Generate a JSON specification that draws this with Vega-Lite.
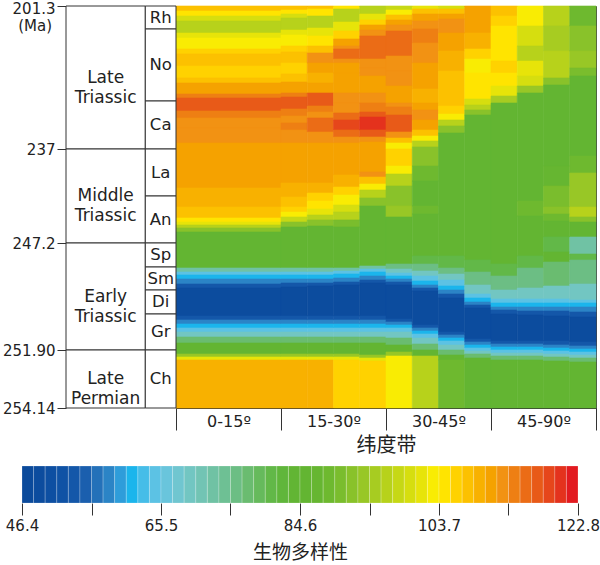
{
"$schema": "https://vega.github.io/schema/vega-lite/v6.json",
"width": 420, "height": 402,
"autosize": {"type": "none"},
"padding": {"left": 176, "top": 6, "right": 4, "bottom": 157},
"background": "white",
"config": {"view": {"stroke": "#444", "strokeWidth": 1}, "axis": {"grid": false, "labelFont": "DejaVu Sans", "labelColor": "#222", "tickColor": "#333", "domainColor": "#333"}, "text": {"font": "DejaVu Sans"}},
"datasets": {
"periods": [{"n":"Late\nTriassic","y0":0,"y1":143},{"n":"Middle\nTriassic","y0":143,"y1":237},{"n":"Early\nTriassic","y0":237,"y1":344},{"n":"Late\nPermian","y0":344,"y1":402}],
"stages": [{"n":"Rh","y0":0,"y1":23},{"n":"No","y0":23,"y1":95},{"n":"Ca","y0":95,"y1":143},{"n":"La","y0":143,"y1":190},{"n":"An","y0":190,"y1":237},{"n":"Sp","y0":237,"y1":261},{"n":"Sm","y0":261,"y1":284},{"n":"Di","y0":284,"y1":308},{"n":"Gr","y0":308,"y1":344},{"n":"Ch","y0":344,"y1":402}],
"legend": [{"lo":46.4,"hi":47.99,"v":47.2},{"lo":47.99,"hi":49.58,"v":48.8},{"lo":49.58,"hi":51.18,"v":50.4},{"lo":51.18,"hi":52.77,"v":52},{"lo":52.77,"hi":54.36,"v":53.6},{"lo":54.36,"hi":55.95,"v":55.2},{"lo":55.95,"hi":57.54,"v":56.7},{"lo":57.54,"hi":59.13,"v":58.3},{"lo":59.13,"hi":60.73,"v":59.9},{"lo":60.73,"hi":62.32,"v":61.5},{"lo":62.32,"hi":63.91,"v":63.1},{"lo":63.91,"hi":65.5,"v":64.7},{"lo":65.5,"hi":67.09,"v":66.3},{"lo":67.09,"hi":68.68,"v":67.9},{"lo":68.68,"hi":70.28,"v":69.5},{"lo":70.28,"hi":71.87,"v":71.1},{"lo":71.87,"hi":73.46,"v":72.7},{"lo":73.46,"hi":75.05,"v":74.3},{"lo":75.05,"hi":76.64,"v":75.8},{"lo":76.64,"hi":78.23,"v":77.4},{"lo":78.23,"hi":79.83,"v":79},{"lo":79.83,"hi":81.42,"v":80.6},{"lo":81.42,"hi":83.01,"v":82.2},{"lo":83.01,"hi":84.6,"v":83.8},{"lo":84.6,"hi":86.19,"v":85.4},{"lo":86.19,"hi":87.78,"v":87},{"lo":87.78,"hi":89.38,"v":88.6},{"lo":89.38,"hi":90.97,"v":90.2},{"lo":90.97,"hi":92.56,"v":91.8},{"lo":92.56,"hi":94.15,"v":93.4},{"lo":94.15,"hi":95.74,"v":94.9},{"lo":95.74,"hi":97.33,"v":96.5},{"lo":97.33,"hi":98.93,"v":98.1},{"lo":98.93,"hi":100.52,"v":99.7},{"lo":100.52,"hi":102.11,"v":101.3},{"lo":102.11,"hi":103.7,"v":102.9},{"lo":103.7,"hi":105.29,"v":104.5},{"lo":105.29,"hi":106.88,"v":106.1},{"lo":106.88,"hi":108.47,"v":107.7},{"lo":108.47,"hi":110.07,"v":109.3},{"lo":110.07,"hi":111.66,"v":110.9},{"lo":111.66,"hi":113.25,"v":112.5},{"lo":113.25,"hi":114.84,"v":114},{"lo":114.84,"hi":116.43,"v":115.6},{"lo":116.43,"hi":118.03,"v":117.2},{"lo":118.03,"hi":119.62,"v":118.8},{"lo":119.62,"hi":121.21,"v":120.4},{"lo":121.21,"hi":122.8,"v":122}],
"grid": [
{"a":0,"b":1,"y":0,"z":5,"v":107.5},{"a":0,"b":1,"y":5,"z":10,"v":104},{"a":0,"b":1,"y":10,"z":15,"v":100},{"a":0,"b":1,"y":15,"z":27,"v":97},{"a":0,"b":1,"y":27,"z":32,"v":101.5},{"a":0,"b":1,"y":32,"z":43,"v":103},{"a":0,"b":1,"y":43,"z":48,"v":106},{"a":0,"b":1,"y":48,"z":60,"v":107.5},{"a":0,"b":1,"y":60,"z":72,"v":106},{"a":0,"b":1,"y":72,"z":77,"v":107.5},{"a":0,"b":1,"y":77,"z":88,"v":111},{"a":0,"b":1,"y":88,"z":92,"v":114},{"a":0,"b":1,"y":92,"z":105,"v":117},{"a":0,"b":1,"y":105,"z":112,"v":114},{"a":0,"b":1,"y":112,"z":122,"v":112.5},{"a":0,"b":1,"y":122,"z":137,"v":112},{"a":0,"b":1,"y":137,"z":182,"v":110.5},{"a":0,"b":1,"y":182,"z":201,"v":109},{"a":0,"b":1,"y":201,"z":212,"v":107.5},{"a":0,"b":1,"y":212,"z":216,"v":105},{"a":0,"b":1,"y":216,"z":219,"v":101},{"a":0,"b":1,"y":219,"z":222,"v":97},{"a":0,"b":1,"y":222,"z":226,"v":92},{"a":0,"b":1,"y":226,"z":262,"v":85},{"a":0,"b":1,"y":262,"z":266,"v":73},{"a":0,"b":1,"y":266,"z":269,"v":65},{"a":0,"b":1,"y":269,"z":273,"v":61},{"a":0,"b":1,"y":273,"z":278,"v":58},{"a":0,"b":1,"y":278,"z":282,"v":54},{"a":0,"b":1,"y":282,"z":310,"v":49},{"a":0,"b":1,"y":310,"z":314,"v":54},{"a":0,"b":1,"y":314,"z":318,"v":58},{"a":0,"b":1,"y":318,"z":322,"v":61},{"a":0,"b":1,"y":322,"z":326,"v":65},{"a":0,"b":1,"y":326,"z":331,"v":70},{"a":0,"b":1,"y":331,"z":337,"v":77},{"a":0,"b":1,"y":337,"z":348,"v":85},{"a":0,"b":1,"y":348,"z":351,"v":93},{"a":0,"b":1,"y":351,"z":354,"v":101},{"a":0,"b":1,"y":354,"z":402,"v":109},
{"a":1,"b":1.25,"y":0,"z":4,"v":107.5},{"a":1,"b":1.25,"y":4,"z":8,"v":104},{"a":1,"b":1.25,"y":8,"z":12,"v":100},{"a":1,"b":1.25,"y":12,"z":24,"v":97},{"a":1,"b":1.25,"y":24,"z":29,"v":101.5},{"a":1,"b":1.25,"y":29,"z":40,"v":103},{"a":1,"b":1.25,"y":40,"z":46,"v":106},{"a":1,"b":1.25,"y":46,"z":57,"v":107.5},{"a":1,"b":1.25,"y":57,"z":68,"v":106},{"a":1,"b":1.25,"y":68,"z":76,"v":107.5},{"a":1,"b":1.25,"y":76,"z":87,"v":111},{"a":1,"b":1.25,"y":87,"z":91,"v":114},{"a":1,"b":1.25,"y":91,"z":103,"v":117},{"a":1,"b":1.25,"y":103,"z":110,"v":114},{"a":1,"b":1.25,"y":110,"z":117,"v":112.5},{"a":1,"b":1.25,"y":117,"z":124,"v":114},{"a":1,"b":1.25,"y":124,"z":137,"v":112},{"a":1,"b":1.25,"y":137,"z":177,"v":110.5},{"a":1,"b":1.25,"y":177,"z":191,"v":109},{"a":1,"b":1.25,"y":191,"z":201,"v":107.5},{"a":1,"b":1.25,"y":201,"z":206,"v":106},{"a":1,"b":1.25,"y":206,"z":211,"v":103},{"a":1,"b":1.25,"y":211,"z":216,"v":98},{"a":1,"b":1.25,"y":216,"z":221,"v":92},{"a":1,"b":1.25,"y":221,"z":262,"v":85},{"a":1,"b":1.25,"y":262,"z":266,"v":73},{"a":1,"b":1.25,"y":266,"z":269,"v":65},{"a":1,"b":1.25,"y":269,"z":273,"v":61},{"a":1,"b":1.25,"y":273,"z":277,"v":58},{"a":1,"b":1.25,"y":277,"z":281,"v":54},{"a":1,"b":1.25,"y":281,"z":310,"v":49},{"a":1,"b":1.25,"y":310,"z":314,"v":54},{"a":1,"b":1.25,"y":314,"z":318,"v":58},{"a":1,"b":1.25,"y":318,"z":322,"v":61},{"a":1,"b":1.25,"y":322,"z":326,"v":65},{"a":1,"b":1.25,"y":326,"z":331,"v":70},{"a":1,"b":1.25,"y":331,"z":337,"v":77},{"a":1,"b":1.25,"y":337,"z":348,"v":85},{"a":1,"b":1.25,"y":348,"z":351,"v":93},{"a":1,"b":1.25,"y":351,"z":354,"v":101},{"a":1,"b":1.25,"y":354,"z":402,"v":109},
{"a":1.25,"b":1.5,"y":0,"z":3,"v":107.5},{"a":1.25,"b":1.5,"y":3,"z":10,"v":104},{"a":1.25,"b":1.5,"y":10,"z":22,"v":97},{"a":1.25,"b":1.5,"y":22,"z":30,"v":101.5},{"a":1.25,"b":1.5,"y":30,"z":40,"v":105},{"a":1.25,"b":1.5,"y":40,"z":47,"v":107.5},{"a":1.25,"b":1.5,"y":47,"z":57,"v":112.5},{"a":1.25,"b":1.5,"y":57,"z":67,"v":111},{"a":1.25,"b":1.5,"y":67,"z":77,"v":109},{"a":1.25,"b":1.5,"y":77,"z":87,"v":111},{"a":1.25,"b":1.5,"y":87,"z":100,"v":117},{"a":1.25,"b":1.5,"y":100,"z":106,"v":114},{"a":1.25,"b":1.5,"y":106,"z":112,"v":112.5},{"a":1.25,"b":1.5,"y":112,"z":126,"v":116},{"a":1.25,"b":1.5,"y":126,"z":137,"v":112.5},{"a":1.25,"b":1.5,"y":137,"z":177,"v":110.5},{"a":1.25,"b":1.5,"y":177,"z":187,"v":109},{"a":1.25,"b":1.5,"y":187,"z":195,"v":106},{"a":1.25,"b":1.5,"y":195,"z":203,"v":104},{"a":1.25,"b":1.5,"y":203,"z":209,"v":102},{"a":1.25,"b":1.5,"y":209,"z":214,"v":97},{"a":1.25,"b":1.5,"y":214,"z":220,"v":91},{"a":1.25,"b":1.5,"y":220,"z":262,"v":85},{"a":1.25,"b":1.5,"y":262,"z":266,"v":73},{"a":1.25,"b":1.5,"y":266,"z":269,"v":65},{"a":1.25,"b":1.5,"y":269,"z":273,"v":61},{"a":1.25,"b":1.5,"y":273,"z":277,"v":58},{"a":1.25,"b":1.5,"y":277,"z":280,"v":54},{"a":1.25,"b":1.5,"y":280,"z":310,"v":49},{"a":1.25,"b":1.5,"y":310,"z":314,"v":54},{"a":1.25,"b":1.5,"y":314,"z":318,"v":58},{"a":1.25,"b":1.5,"y":318,"z":322,"v":61},{"a":1.25,"b":1.5,"y":322,"z":326,"v":65},{"a":1.25,"b":1.5,"y":326,"z":331,"v":70},{"a":1.25,"b":1.5,"y":331,"z":337,"v":77},{"a":1.25,"b":1.5,"y":337,"z":348,"v":85},{"a":1.25,"b":1.5,"y":348,"z":351,"v":93},{"a":1.25,"b":1.5,"y":351,"z":354,"v":101},{"a":1.25,"b":1.5,"y":354,"z":402,"v":109},
{"a":1.5,"b":1.75,"y":0,"z":3,"v":104},{"a":1.5,"b":1.75,"y":3,"z":16,"v":97},{"a":1.5,"b":1.75,"y":16,"z":25,"v":102},{"a":1.5,"b":1.75,"y":25,"z":33,"v":106},{"a":1.5,"b":1.75,"y":33,"z":40,"v":110.5},{"a":1.5,"b":1.75,"y":40,"z":43,"v":113},{"a":1.5,"b":1.75,"y":43,"z":53,"v":115.5},{"a":1.5,"b":1.75,"y":53,"z":57,"v":113},{"a":1.5,"b":1.75,"y":57,"z":67,"v":111},{"a":1.5,"b":1.75,"y":67,"z":87,"v":110.5},{"a":1.5,"b":1.75,"y":87,"z":97,"v":113},{"a":1.5,"b":1.75,"y":97,"z":107,"v":112.5},{"a":1.5,"b":1.75,"y":107,"z":114,"v":115.5},{"a":1.5,"b":1.75,"y":114,"z":124,"v":119},{"a":1.5,"b":1.75,"y":124,"z":131,"v":115.5},{"a":1.5,"b":1.75,"y":131,"z":137,"v":112.5},{"a":1.5,"b":1.75,"y":137,"z":169,"v":110.5},{"a":1.5,"b":1.75,"y":169,"z":181,"v":109},{"a":1.5,"b":1.75,"y":181,"z":189,"v":106},{"a":1.5,"b":1.75,"y":189,"z":199,"v":103},{"a":1.5,"b":1.75,"y":199,"z":206,"v":100},{"a":1.5,"b":1.75,"y":206,"z":214,"v":96},{"a":1.5,"b":1.75,"y":214,"z":221,"v":90},{"a":1.5,"b":1.75,"y":221,"z":262,"v":85},{"a":1.5,"b":1.75,"y":262,"z":265,"v":73},{"a":1.5,"b":1.75,"y":265,"z":268,"v":65},{"a":1.5,"b":1.75,"y":268,"z":272,"v":61},{"a":1.5,"b":1.75,"y":272,"z":276,"v":58},{"a":1.5,"b":1.75,"y":276,"z":279,"v":54},{"a":1.5,"b":1.75,"y":279,"z":310,"v":49},{"a":1.5,"b":1.75,"y":310,"z":314,"v":54},{"a":1.5,"b":1.75,"y":314,"z":318,"v":58},{"a":1.5,"b":1.75,"y":318,"z":322,"v":61},{"a":1.5,"b":1.75,"y":322,"z":326,"v":65},{"a":1.5,"b":1.75,"y":326,"z":331,"v":70},{"a":1.5,"b":1.75,"y":331,"z":337,"v":77},{"a":1.5,"b":1.75,"y":337,"z":348,"v":85},{"a":1.5,"b":1.75,"y":348,"z":351,"v":93},{"a":1.5,"b":1.75,"y":351,"z":354,"v":101},{"a":1.5,"b":1.75,"y":354,"z":402,"v":106},
{"a":1.75,"b":2,"y":0,"z":8,"v":97},{"a":1.75,"b":2,"y":8,"z":14,"v":102},{"a":1.75,"b":2,"y":14,"z":19,"v":106},{"a":1.75,"b":2,"y":19,"z":24,"v":110.5},{"a":1.75,"b":2,"y":24,"z":30,"v":113},{"a":1.75,"b":2,"y":30,"z":53,"v":115.5},{"a":1.75,"b":2,"y":53,"z":62,"v":113},{"a":1.75,"b":2,"y":62,"z":70,"v":112.5},{"a":1.75,"b":2,"y":70,"z":87,"v":110.5},{"a":1.75,"b":2,"y":87,"z":97,"v":112.5},{"a":1.75,"b":2,"y":97,"z":106,"v":114},{"a":1.75,"b":2,"y":106,"z":111,"v":117},{"a":1.75,"b":2,"y":111,"z":124,"v":121},{"a":1.75,"b":2,"y":124,"z":131,"v":117},{"a":1.75,"b":2,"y":131,"z":136,"v":112.5},{"a":1.75,"b":2,"y":136,"z":166,"v":110.5},{"a":1.75,"b":2,"y":166,"z":171,"v":112.5},{"a":1.75,"b":2,"y":171,"z":178,"v":107.5},{"a":1.75,"b":2,"y":178,"z":184,"v":103},{"a":1.75,"b":2,"y":184,"z":192,"v":97},{"a":1.75,"b":2,"y":192,"z":200,"v":92},{"a":1.75,"b":2,"y":200,"z":260,"v":85},{"a":1.75,"b":2,"y":260,"z":263,"v":73},{"a":1.75,"b":2,"y":263,"z":266,"v":65},{"a":1.75,"b":2,"y":266,"z":270,"v":61},{"a":1.75,"b":2,"y":270,"z":274,"v":58},{"a":1.75,"b":2,"y":274,"z":277,"v":54},{"a":1.75,"b":2,"y":277,"z":310,"v":49},{"a":1.75,"b":2,"y":310,"z":314,"v":54},{"a":1.75,"b":2,"y":314,"z":318,"v":58},{"a":1.75,"b":2,"y":318,"z":322,"v":61},{"a":1.75,"b":2,"y":322,"z":326,"v":65},{"a":1.75,"b":2,"y":326,"z":331,"v":70},{"a":1.75,"b":2,"y":331,"z":337,"v":77},{"a":1.75,"b":2,"y":337,"z":349,"v":85},{"a":1.75,"b":2,"y":349,"z":352,"v":93},{"a":1.75,"b":2,"y":352,"z":355,"v":101},{"a":1.75,"b":2,"y":355,"z":402,"v":105.5},
{"a":2,"b":2.25,"y":0,"z":4,"v":98},{"a":2,"b":2.25,"y":4,"z":9,"v":103},{"a":2,"b":2.25,"y":9,"z":14,"v":107.5},{"a":2,"b":2.25,"y":14,"z":19,"v":110.5},{"a":2,"b":2.25,"y":19,"z":25,"v":112.5},{"a":2,"b":2.25,"y":25,"z":50,"v":115.5},{"a":2,"b":2.25,"y":50,"z":65,"v":113},{"a":2,"b":2.25,"y":65,"z":80,"v":112.5},{"a":2,"b":2.25,"y":80,"z":97,"v":110.5},{"a":2,"b":2.25,"y":97,"z":101,"v":112.5},{"a":2,"b":2.25,"y":101,"z":109,"v":114},{"a":2,"b":2.25,"y":109,"z":126,"v":117},{"a":2,"b":2.25,"y":126,"z":132,"v":112.5},{"a":2,"b":2.25,"y":132,"z":137,"v":107.5},{"a":2,"b":2.25,"y":137,"z":143,"v":103},{"a":2,"b":2.25,"y":143,"z":160,"v":106},{"a":2,"b":2.25,"y":160,"z":168,"v":103},{"a":2,"b":2.25,"y":168,"z":180,"v":96},{"a":2,"b":2.25,"y":180,"z":200,"v":91},{"a":2,"b":2.25,"y":200,"z":211,"v":93},{"a":2,"b":2.25,"y":211,"z":258,"v":85},{"a":2,"b":2.25,"y":258,"z":263,"v":76},{"a":2,"b":2.25,"y":263,"z":267,"v":70},{"a":2,"b":2.25,"y":267,"z":270,"v":65},{"a":2,"b":2.25,"y":270,"z":273,"v":61},{"a":2,"b":2.25,"y":273,"z":276,"v":58},{"a":2,"b":2.25,"y":276,"z":279,"v":54},{"a":2,"b":2.25,"y":279,"z":313,"v":49},{"a":2,"b":2.25,"y":313,"z":316,"v":54},{"a":2,"b":2.25,"y":316,"z":319,"v":58},{"a":2,"b":2.25,"y":319,"z":322,"v":61},{"a":2,"b":2.25,"y":322,"z":326,"v":65},{"a":2,"b":2.25,"y":326,"z":332,"v":70},{"a":2,"b":2.25,"y":332,"z":339,"v":77},{"a":2,"b":2.25,"y":339,"z":346,"v":85},{"a":2,"b":2.25,"y":346,"z":350,"v":93},{"a":2,"b":2.25,"y":350,"z":402,"v":103},
{"a":2.25,"b":2.5,"y":0,"z":3,"v":101},{"a":2.25,"b":2.5,"y":3,"z":8,"v":107.5},{"a":2.25,"b":2.5,"y":8,"z":15,"v":110.5},{"a":2.25,"b":2.5,"y":15,"z":23,"v":112.5},{"a":2.25,"b":2.5,"y":23,"z":37,"v":114},{"a":2.25,"b":2.5,"y":37,"z":57,"v":112.5},{"a":2.25,"b":2.5,"y":57,"z":83,"v":110.5},{"a":2.25,"b":2.5,"y":83,"z":97,"v":109},{"a":2.25,"b":2.5,"y":97,"z":104,"v":110.5},{"a":2.25,"b":2.5,"y":104,"z":114,"v":112},{"a":2.25,"b":2.5,"y":114,"z":124,"v":110.5},{"a":2.25,"b":2.5,"y":124,"z":130,"v":107.5},{"a":2.25,"b":2.5,"y":130,"z":135,"v":103},{"a":2.25,"b":2.5,"y":135,"z":141,"v":97},{"a":2.25,"b":2.5,"y":141,"z":160,"v":91},{"a":2.25,"b":2.5,"y":160,"z":175,"v":88},{"a":2.25,"b":2.5,"y":175,"z":200,"v":85},{"a":2.25,"b":2.5,"y":200,"z":208,"v":89},{"a":2.25,"b":2.5,"y":208,"z":250,"v":85},{"a":2.25,"b":2.5,"y":250,"z":258,"v":80},{"a":2.25,"b":2.5,"y":258,"z":265,"v":76},{"a":2.25,"b":2.5,"y":265,"z":270,"v":70},{"a":2.25,"b":2.5,"y":270,"z":275,"v":65},{"a":2.25,"b":2.5,"y":275,"z":279,"v":61},{"a":2.25,"b":2.5,"y":279,"z":282,"v":58},{"a":2.25,"b":2.5,"y":282,"z":285,"v":54},{"a":2.25,"b":2.5,"y":285,"z":319,"v":49},{"a":2.25,"b":2.5,"y":319,"z":322,"v":54},{"a":2.25,"b":2.5,"y":322,"z":325,"v":58},{"a":2.25,"b":2.5,"y":325,"z":328,"v":61},{"a":2.25,"b":2.5,"y":328,"z":332,"v":65},{"a":2.25,"b":2.5,"y":332,"z":338,"v":70},{"a":2.25,"b":2.5,"y":338,"z":344,"v":77},{"a":2.25,"b":2.5,"y":344,"z":350,"v":85},{"a":2.25,"b":2.5,"y":350,"z":402,"v":96},
{"a":2.5,"b":2.75,"y":0,"z":3,"v":100},{"a":2.5,"b":2.75,"y":3,"z":8,"v":107.5},{"a":2.5,"b":2.75,"y":8,"z":13,"v":110.5},{"a":2.5,"b":2.75,"y":13,"z":27,"v":112.5},{"a":2.5,"b":2.75,"y":27,"z":45,"v":110.5},{"a":2.5,"b":2.75,"y":45,"z":65,"v":109},{"a":2.5,"b":2.75,"y":65,"z":100,"v":107.5},{"a":2.5,"b":2.75,"y":100,"z":108,"v":106},{"a":2.5,"b":2.75,"y":108,"z":114,"v":103},{"a":2.5,"b":2.75,"y":114,"z":120,"v":97},{"a":2.5,"b":2.75,"y":120,"z":127,"v":91},{"a":2.5,"b":2.75,"y":127,"z":250,"v":85},{"a":2.5,"b":2.75,"y":250,"z":262,"v":80},{"a":2.5,"b":2.75,"y":262,"z":268,"v":76},{"a":2.5,"b":2.75,"y":268,"z":274,"v":70},{"a":2.5,"b":2.75,"y":274,"z":280,"v":65},{"a":2.5,"b":2.75,"y":280,"z":284,"v":61},{"a":2.5,"b":2.75,"y":284,"z":288,"v":58},{"a":2.5,"b":2.75,"y":288,"z":292,"v":54},{"a":2.5,"b":2.75,"y":292,"z":326,"v":49},{"a":2.5,"b":2.75,"y":326,"z":329,"v":54},{"a":2.5,"b":2.75,"y":329,"z":332,"v":58},{"a":2.5,"b":2.75,"y":332,"z":335,"v":61},{"a":2.5,"b":2.75,"y":335,"z":339,"v":65},{"a":2.5,"b":2.75,"y":339,"z":344,"v":70},{"a":2.5,"b":2.75,"y":344,"z":349,"v":77},{"a":2.5,"b":2.75,"y":349,"z":354,"v":85},{"a":2.5,"b":2.75,"y":354,"z":402,"v":89},
{"a":2.75,"b":3,"y":0,"z":27,"v":110.5},{"a":2.75,"b":3,"y":27,"z":43,"v":109},{"a":2.75,"b":3,"y":43,"z":53,"v":106},{"a":2.75,"b":3,"y":53,"z":67,"v":103},{"a":2.75,"b":3,"y":67,"z":80,"v":105},{"a":2.75,"b":3,"y":80,"z":93,"v":104},{"a":2.75,"b":3,"y":93,"z":99,"v":100},{"a":2.75,"b":3,"y":99,"z":104,"v":96},{"a":2.75,"b":3,"y":104,"z":109,"v":91},{"a":2.75,"b":3,"y":109,"z":254,"v":85},{"a":2.75,"b":3,"y":254,"z":266,"v":80},{"a":2.75,"b":3,"y":266,"z":279,"v":76},{"a":2.75,"b":3,"y":279,"z":288,"v":70},{"a":2.75,"b":3,"y":288,"z":292,"v":65},{"a":2.75,"b":3,"y":292,"z":296,"v":61},{"a":2.75,"b":3,"y":296,"z":299,"v":58},{"a":2.75,"b":3,"y":299,"z":302,"v":54},{"a":2.75,"b":3,"y":302,"z":333,"v":49},{"a":2.75,"b":3,"y":333,"z":336,"v":54},{"a":2.75,"b":3,"y":336,"z":339,"v":58},{"a":2.75,"b":3,"y":339,"z":342,"v":61},{"a":2.75,"b":3,"y":342,"z":345,"v":65},{"a":2.75,"b":3,"y":345,"z":348,"v":70},{"a":2.75,"b":3,"y":348,"z":352,"v":77},{"a":2.75,"b":3,"y":352,"z":402,"v":85},
{"a":3,"b":3.25,"y":0,"z":10,"v":107.5},{"a":3,"b":3.25,"y":10,"z":20,"v":106},{"a":3,"b":3.25,"y":20,"z":40,"v":104},{"a":3,"b":3.25,"y":40,"z":55,"v":105},{"a":3,"b":3.25,"y":55,"z":67,"v":106},{"a":3,"b":3.25,"y":67,"z":80,"v":105},{"a":3,"b":3.25,"y":80,"z":90,"v":102},{"a":3,"b":3.25,"y":90,"z":97,"v":95},{"a":3,"b":3.25,"y":97,"z":258,"v":85},{"a":3,"b":3.25,"y":258,"z":270,"v":80},{"a":3,"b":3.25,"y":270,"z":284,"v":76},{"a":3,"b":3.25,"y":284,"z":293,"v":70},{"a":3,"b":3.25,"y":293,"z":297,"v":65},{"a":3,"b":3.25,"y":297,"z":301,"v":61},{"a":3,"b":3.25,"y":301,"z":304,"v":58},{"a":3,"b":3.25,"y":304,"z":308,"v":54},{"a":3,"b":3.25,"y":308,"z":335,"v":49},{"a":3,"b":3.25,"y":335,"z":338,"v":54},{"a":3,"b":3.25,"y":338,"z":341,"v":58},{"a":3,"b":3.25,"y":341,"z":344,"v":61},{"a":3,"b":3.25,"y":344,"z":347,"v":65},{"a":3,"b":3.25,"y":347,"z":350,"v":70},{"a":3,"b":3.25,"y":350,"z":354,"v":77},{"a":3,"b":3.25,"y":354,"z":402,"v":85},
{"a":3.25,"b":3.5,"y":0,"z":20,"v":103},{"a":3.25,"b":3.5,"y":20,"z":40,"v":100},{"a":3.25,"b":3.5,"y":40,"z":55,"v":97},{"a":3.25,"b":3.5,"y":55,"z":70,"v":101},{"a":3.25,"b":3.5,"y":70,"z":80,"v":99},{"a":3.25,"b":3.5,"y":80,"z":87,"v":93},{"a":3.25,"b":3.5,"y":87,"z":195,"v":85},{"a":3.25,"b":3.5,"y":195,"z":210,"v":88},{"a":3.25,"b":3.5,"y":210,"z":250,"v":85},{"a":3.25,"b":3.5,"y":250,"z":262,"v":80},{"a":3.25,"b":3.5,"y":262,"z":282,"v":76},{"a":3.25,"b":3.5,"y":282,"z":293,"v":70},{"a":3.25,"b":3.5,"y":293,"z":297,"v":65},{"a":3.25,"b":3.5,"y":297,"z":301,"v":61},{"a":3.25,"b":3.5,"y":301,"z":305,"v":58},{"a":3.25,"b":3.5,"y":305,"z":309,"v":54},{"a":3.25,"b":3.5,"y":309,"z":335,"v":49},{"a":3.25,"b":3.5,"y":335,"z":338,"v":54},{"a":3.25,"b":3.5,"y":338,"z":341,"v":58},{"a":3.25,"b":3.5,"y":341,"z":344,"v":61},{"a":3.25,"b":3.5,"y":344,"z":347,"v":65},{"a":3.25,"b":3.5,"y":347,"z":350,"v":70},{"a":3.25,"b":3.5,"y":350,"z":354,"v":77},{"a":3.25,"b":3.5,"y":354,"z":402,"v":85},
{"a":3.5,"b":3.75,"y":0,"z":20,"v":96},{"a":3.5,"b":3.75,"y":20,"z":45,"v":95},{"a":3.5,"b":3.75,"y":45,"z":72,"v":97},{"a":3.5,"b":3.75,"y":72,"z":79,"v":92},{"a":3.5,"b":3.75,"y":79,"z":160,"v":85},{"a":3.5,"b":3.75,"y":160,"z":180,"v":87},{"a":3.5,"b":3.75,"y":180,"z":201,"v":90},{"a":3.5,"b":3.75,"y":201,"z":208,"v":92},{"a":3.5,"b":3.75,"y":208,"z":215,"v":88},{"a":3.5,"b":3.75,"y":215,"z":231,"v":85},{"a":3.5,"b":3.75,"y":231,"z":246,"v":80},{"a":3.5,"b":3.75,"y":246,"z":256,"v":85},{"a":3.5,"b":3.75,"y":256,"z":280,"v":77},{"a":3.5,"b":3.75,"y":280,"z":293,"v":70},{"a":3.5,"b":3.75,"y":293,"z":297,"v":65},{"a":3.5,"b":3.75,"y":297,"z":301,"v":61},{"a":3.5,"b":3.75,"y":301,"z":305,"v":58},{"a":3.5,"b":3.75,"y":305,"z":310,"v":54},{"a":3.5,"b":3.75,"y":310,"z":335,"v":49},{"a":3.5,"b":3.75,"y":335,"z":339,"v":54},{"a":3.5,"b":3.75,"y":339,"z":342,"v":58},{"a":3.5,"b":3.75,"y":342,"z":345,"v":61},{"a":3.5,"b":3.75,"y":345,"z":348,"v":65},{"a":3.5,"b":3.75,"y":348,"z":351,"v":70},{"a":3.5,"b":3.75,"y":351,"z":355,"v":77},{"a":3.5,"b":3.75,"y":355,"z":402,"v":85},
{"a":3.75,"b":4,"y":0,"z":20,"v":89},{"a":3.75,"b":4,"y":20,"z":45,"v":92},{"a":3.75,"b":4,"y":45,"z":62,"v":94},{"a":3.75,"b":4,"y":62,"z":70,"v":90},{"a":3.75,"b":4,"y":70,"z":150,"v":85},{"a":3.75,"b":4,"y":150,"z":167,"v":88},{"a":3.75,"b":4,"y":167,"z":201,"v":93},{"a":3.75,"b":4,"y":201,"z":211,"v":96},{"a":3.75,"b":4,"y":211,"z":216,"v":91},{"a":3.75,"b":4,"y":216,"z":231,"v":85},{"a":3.75,"b":4,"y":231,"z":248,"v":72},{"a":3.75,"b":4,"y":248,"z":254,"v":80},{"a":3.75,"b":4,"y":254,"z":278,"v":76},{"a":3.75,"b":4,"y":278,"z":294,"v":70},{"a":3.75,"b":4,"y":294,"z":297,"v":65},{"a":3.75,"b":4,"y":297,"z":301,"v":61},{"a":3.75,"b":4,"y":301,"z":306,"v":58},{"a":3.75,"b":4,"y":306,"z":311,"v":54},{"a":3.75,"b":4,"y":311,"z":336,"v":49},{"a":3.75,"b":4,"y":336,"z":340,"v":54},{"a":3.75,"b":4,"y":340,"z":343,"v":58},{"a":3.75,"b":4,"y":343,"z":346,"v":61},{"a":3.75,"b":4,"y":346,"z":349,"v":65},{"a":3.75,"b":4,"y":349,"z":352,"v":70},{"a":3.75,"b":4,"y":352,"z":356,"v":77},{"a":3.75,"b":4,"y":356,"z":402,"v":85}
]
},
"layer": [
{
"layer": [
{
"data": {"name": "grid"},
"mark": {"type": "rect", "strokeWidth": 0.6},
"encoding": {
"x": {"field": "a", "type": "quantitative", "scale": {"domain": [0, 4], "nice": false, "zero": false},
 "axis": {"orient": "bottom", "values": [0, 1, 2, 3, 4], "labelExpr": "datum.value == 0 ? '0-15º' : datum.value == 1 ? '15-30º' : datum.value == 2 ? '30-45º' : datum.value == 3 ? '45-90º' : ''", "labelOffset": 52.5, "tickSize": 22, "labelPadding": -17, "labelFontSize": 16, "labelFlush": false, "labelOverlap": false, "labelBaseline": "top", "title": "纬度带", "titleFont": "Noto Sans CJK SC", "titleFontSize": 20, "titleFontWeight": "normal", "titleColor": "#222", "titleY": 37, "titleBaseline": "middle"}},
"x2": {"field": "b"},
"y": {"field": "y", "type": "quantitative", "scale": {"domain": [0, 402], "reverse": true, "nice": false, "zero": false},
 "axis": {"orient": "left", "values": [0, 143, 237, 344, 402], "labelExpr": "datum.value == 0 ? '201.3' : datum.value == 143 ? '237' : datum.value == 237 ? '247.2' : datum.value == 344 ? '251.90' : '254.14'", "offset": 110, "tickSize": 9, "domain": false, "labelPadding": 2, "labelFontSize": 15, "labelFlush": false, "labelOverlap": false, "labelOffset": {"condition": {"test": "datum.value == 0", "value": 2}, "value": 0}, "title": null}},
"y2": {"field": "z"},
"color": {"field": "v", "type": "quantitative", "legend": null, "scale": {"type": "threshold", "domain": [47.99,49.58,51.18,52.77,54.36,55.95,57.54,59.13,60.73,62.32,63.91,65.5,67.09,68.68,70.28,71.87,73.46,75.05,76.64,78.23,79.83,81.42,83.01,84.6,86.19,87.78,89.38,90.97,92.56,94.15,95.74,97.33,98.93,100.52,102.11,103.7,105.29,106.88,108.47,110.07,111.66,113.25,114.84,116.43,118.03,119.62,121.21], "range": ["#0b4a9b","#0c4c9e","#0d4fa2","#0f52a5","#1457a9","#1b5fae","#2471b9","#2b84c6","#2e9dda","#1bb5ec","#46bde8","#5cc2e4","#69c5dc","#70c6d0","#72c6c2","#72c4b4","#70c2a4","#6ec094","#6cbe84","#6abc70","#66ba5c","#62b848","#60b63b","#62b534","#63b532","#66b631","#6eb92f","#7abd2d","#89c22a","#98c726","#a7cc21","#b7d21b","#c6d815","#d6de0f","#e7e409","#f9ec03","#ffe400","#ffd200","#fcc100","#f8b100","#f5a200","#f29213","#ee7f13","#eb6c16","#e85a18","#e6461b","#e4321d","#e21a20"]}},
"stroke": {"field": "v", "type": "quantitative", "legend": null, "scale": {"type": "threshold", "domain": [47.99,49.58,51.18,52.77,54.36,55.95,57.54,59.13,60.73,62.32,63.91,65.5,67.09,68.68,70.28,71.87,73.46,75.05,76.64,78.23,79.83,81.42,83.01,84.6,86.19,87.78,89.38,90.97,92.56,94.15,95.74,97.33,98.93,100.52,102.11,103.7,105.29,106.88,108.47,110.07,111.66,113.25,114.84,116.43,118.03,119.62,121.21], "range": ["#0b4a9b","#0c4c9e","#0d4fa2","#0f52a5","#1457a9","#1b5fae","#2471b9","#2b84c6","#2e9dda","#1bb5ec","#46bde8","#5cc2e4","#69c5dc","#70c6d0","#72c6c2","#72c4b4","#70c2a4","#6ec094","#6cbe84","#6abc70","#66ba5c","#62b848","#60b63b","#62b534","#63b532","#66b631","#6eb92f","#7abd2d","#89c22a","#98c726","#a7cc21","#b7d21b","#c6d815","#d6de0f","#e7e409","#f9ec03","#ffe400","#ffd200","#fcc100","#f8b100","#f5a200","#f29213","#ee7f13","#eb6c16","#e85a18","#e6461b","#e4321d","#e21a20"]}}
}
},
{
"data": {"name": "periods"},
"mark": {"type": "rect", "fill": "white", "stroke": "#333", "strokeWidth": 1},
"encoding": {"x": {"datum": -1.0476, "type": "quantitative"}, "x2": {"datum": -0.2924}, "y": {"field": "y0", "type": "quantitative"}, "y2": {"field": "y1"}}
},
{
"data": {"name": "stages"},
"mark": {"type": "rect", "fill": "white", "stroke": "#333", "strokeWidth": 1},
"encoding": {"x": {"datum": -0.2924, "type": "quantitative"}, "x2": {"datum": 0}, "y": {"field": "y0", "type": "quantitative"}, "y2": {"field": "y1"}}
},
{
"data": {"name": "periods"},
"transform": [{"calculate": "(datum.y0 + datum.y1) / 2", "as": "ym"}],
"mark": {"type": "text", "lineBreak": "\n", "fontSize": 17, "lineHeight": 20, "color": "#222", "baseline": "middle", "align": "center"},
"encoding": {"x": {"datum": -0.67, "type": "quantitative"}, "y": {"field": "ym", "type": "quantitative"}, "text": {"field": "n"}}
},
{
"data": {"name": "stages"},
"transform": [{"calculate": "(datum.y0 + datum.y1) / 2", "as": "ym"}],
"mark": {"type": "text", "fontSize": 16.5, "color": "#222", "baseline": "middle", "align": "center"},
"encoding": {"x": {"datum": -0.146, "type": "quantitative"}, "y": {"field": "ym", "type": "quantitative"}, "text": {"field": "n"}}
},
{
"data": {"values": [{"t": "(Ma)"}]},
"mark": {"type": "text", "fontSize": 15, "color": "#222", "baseline": "middle", "align": "right"},
"encoding": {"x": {"datum": -1.18, "type": "quantitative"}, "y": {"datum": 19.5, "type": "quantitative"}, "text": {"field": "t"}}
}
]
},
{
"data": {"name": "legend"},
"mark": {"type": "rect", "stroke": "#ffffff", "strokeOpacity": 0.35, "strokeWidth": 0.6},
"encoding": {
"x": {"field": "lo", "type": "quantitative", "scale": {"domain": [46.4, 122.8], "range": [-154, 402], "nice": false, "zero": false},
 "axis": {"orient": "bottom", "offset": 95, "values": [46.4, 55.95, 65.5, 75.05, 84.6, 94.15, 103.7, 113.25, 122.8], "labelExpr": "round((datum.value - 46.4) / 9.55) % 2 == 0 ? format(datum.value, '.1f') : ''", "tickSize": 12, "domain": false, "labelFontSize": 15, "labelPadding": 3, "labelFlush": false, "labelOverlap": false, "title": "生物多样性", "titleFont": "Noto Sans CJK SC", "titleFontSize": 19, "titleFontWeight": "normal", "titleColor": "#222", "titleY": 49, "titleBaseline": "middle"}},
"x2": {"field": "hi"},
"y": {"datum": 0, "type": "quantitative", "scale": {"domain": [0, 1], "range": [460, 497], "nice": false, "zero": false}, "axis": null},
"y2": {"datum": 1},
"color": {"field": "v", "type": "quantitative", "legend": null, "scale": {"type": "threshold", "domain": [47.99,49.58,51.18,52.77,54.36,55.95,57.54,59.13,60.73,62.32,63.91,65.5,67.09,68.68,70.28,71.87,73.46,75.05,76.64,78.23,79.83,81.42,83.01,84.6,86.19,87.78,89.38,90.97,92.56,94.15,95.74,97.33,98.93,100.52,102.11,103.7,105.29,106.88,108.47,110.07,111.66,113.25,114.84,116.43,118.03,119.62,121.21], "range": ["#0b4a9b","#0c4c9e","#0d4fa2","#0f52a5","#1457a9","#1b5fae","#2471b9","#2b84c6","#2e9dda","#1bb5ec","#46bde8","#5cc2e4","#69c5dc","#70c6d0","#72c6c2","#72c4b4","#70c2a4","#6ec094","#6cbe84","#6abc70","#66ba5c","#62b848","#60b63b","#62b534","#63b532","#66b631","#6eb92f","#7abd2d","#89c22a","#98c726","#a7cc21","#b7d21b","#c6d815","#d6de0f","#e7e409","#f9ec03","#ffe400","#ffd200","#fcc100","#f8b100","#f5a200","#f29213","#ee7f13","#eb6c16","#e85a18","#e6461b","#e4321d","#e21a20"]}}
}
}
],
"resolve": {"scale": {"x": "independent", "y": "independent"}, "axis": {"x": "independent", "y": "independent"}}
}
